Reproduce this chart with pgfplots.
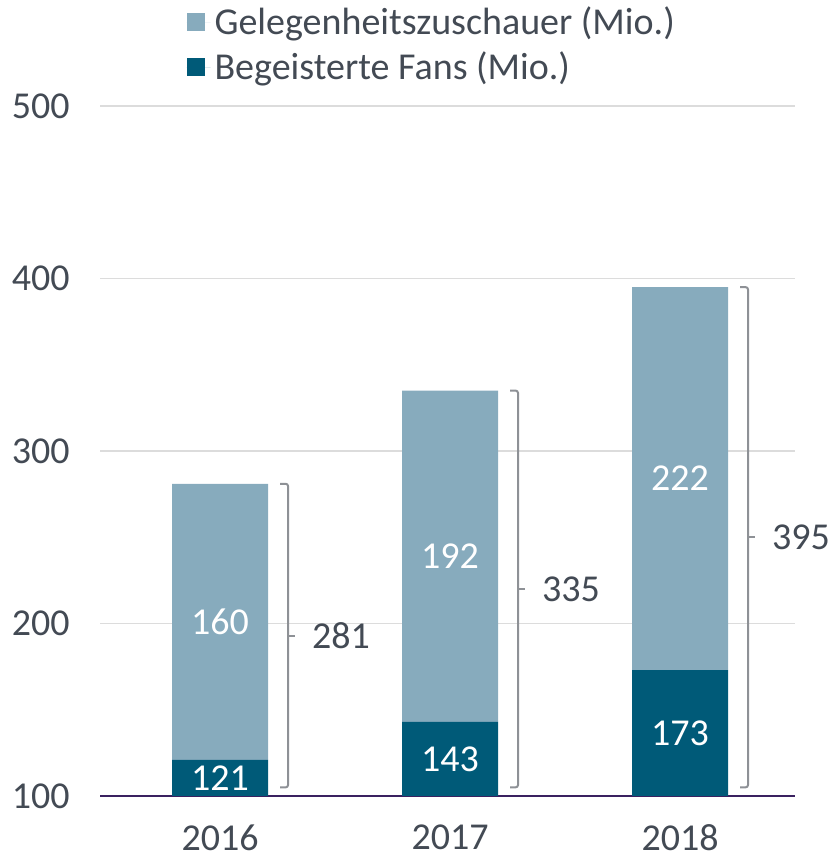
\documentclass[border=0pt]{standalone}
\usepackage{fontspec}
\setmainfont{Carlito}
\usepackage{pgfplots}
\usepackage{pgfplotstable}
\pgfplotsset{compat=1.18}

\definecolor{casual}{HTML}{87ABBD}
\definecolor{fans}{HTML}{005A78}
\definecolor{txt}{HTML}{434A54}
\definecolor{gridc}{HTML}{DCDCDC}
\definecolor{base}{HTML}{3A2160}
\definecolor{brk}{HTML}{8E9196}

% x fans casual total
\pgfplotstableread{
x fans casual total
0 121 160 281
1 143 192 335
2 173 222 395
}\datatable

\newcommand{\bigfont}{\fontsize{19}{19}\selectfont}

% bracket with total next to a bar
\newcommand{\totalbrace}[2]{%
  \draw[brk, line width=1pt, rounded corners=1.2pt]
    ([xshift=30pt]axis cs:#1,105) -- ([xshift=34pt]axis cs:#1,105)
    -- ([xshift=34pt]axis cs:#1,#2) -- ([xshift=30pt]axis cs:#1,#2);
  \draw[brk, line width=1pt]
    ([xshift=34pt]axis cs:#1,{(105+#2)/2}) -- ([xshift=37.5pt]axis cs:#1,{(105+#2)/2})
    node[right, inner sep=0pt, xshift=8pt, text=txt, font=\bigfont] {#2};
}

\begin{document}
\begin{tikzpicture}
\useasboundingbox (-50pt,-32pt) rectangle (364pt,398pt);
\begin{axis}[
  scale only axis,
  width=347.5pt, height=345pt,
  ybar stacked,
  bar width=48pt,
  xmin=-0.522, xmax=2.5,
  ymin=100, ymax=500,
  xtick={0,1,2},
  xticklabels={2016,2017,2018},
  ytick={100,200,300,400,500},
  ymajorgrids,
  grid style={gridc, line width=0.8pt},
  axis line style={draw=none},
  major tick length=0pt,
  tick style={draw=none},
  /pgf/number format/assume math mode=true,
  /pgf/number format/1000 sep={},
  ticklabel style={text=txt, font=\bigfont},
  yticklabel style={inner sep=0pt, xshift=-15pt},
  xticklabel style={inner sep=0pt, yshift=-14pt},
  clip=false,
  reverse legend,
  legend style={at={(rel axis cs:0.124,1.150)}, anchor=north west,
    draw=none, fill=none, font=\bigfont, text=txt,
    row sep=3pt, inner sep=0pt},
  legend cell align=left,
  legend image code/.code={\fill[#1] (0pt,-4.5pt) rectangle (9pt,4.5pt);
    \path (0pt,0pt) -- (12pt,0pt);},
]
\addplot[fill=fans, draw=none] table[x=x, y=fans] {\datatable};
\addlegendentry{Begeisterte Fans (Mio.)}
\addplot[fill=casual, draw=none] table[x=x, y=casual] {\datatable};
\addlegendentry{Gelegenheitszuschauer (Mio.)}

\draw[base, line width=1.2pt] (rel axis cs:0,0) -- (rel axis cs:1,0);

% anchors for the values inside the bars
\coordinate (f0) at (axis cs:0,{(100+121)/2});
\coordinate (f1) at (axis cs:1,{(100+143)/2});
\coordinate (f2) at (axis cs:2,{(100+173)/2});
\coordinate (c0) at (axis cs:0,{121+160/2});
\coordinate (c1) at (axis cs:1,{143+192/2});
\coordinate (c2) at (axis cs:2,{173+222/2});

\totalbrace{0}{281}
\totalbrace{1}{335}
\totalbrace{2}{395}
\end{axis}
\node[text=white, font=\bigfont] at (f0) {121};
\node[text=white, font=\bigfont] at (f1) {143};
\node[text=white, font=\bigfont] at (f2) {173};
\node[text=white, font=\bigfont] at (c0) {160};
\node[text=white, font=\bigfont] at (c1) {192};
\node[text=white, font=\bigfont] at (c2) {222};
\end{tikzpicture}
\end{document}
